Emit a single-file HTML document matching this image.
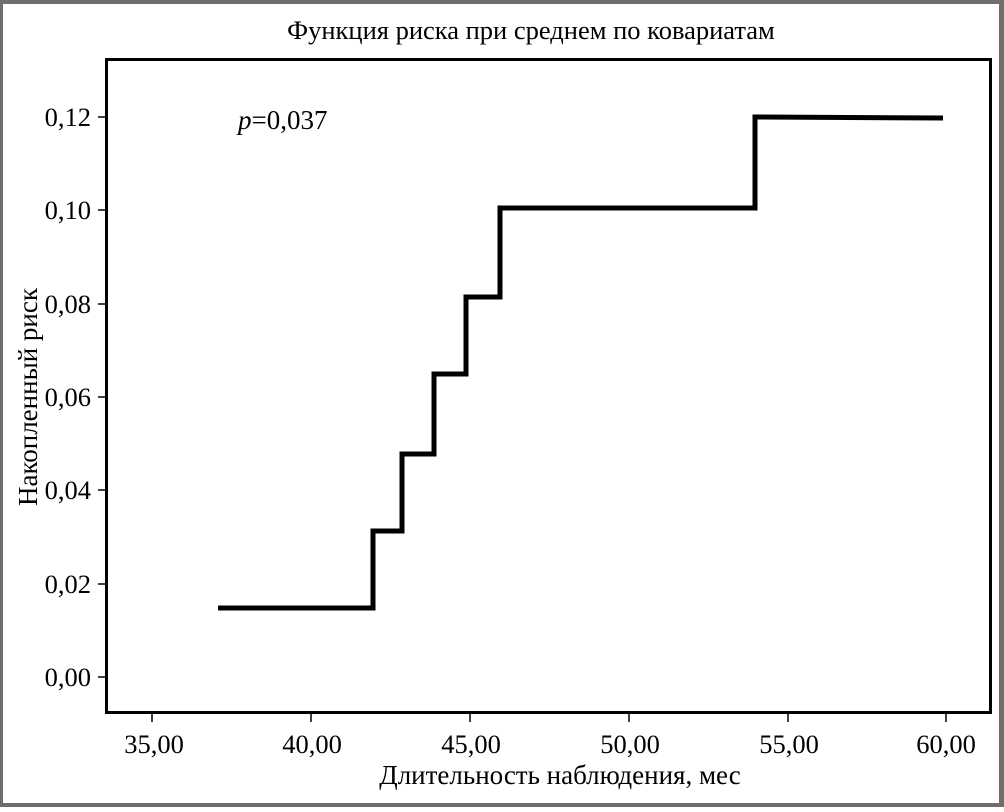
<!DOCTYPE html>
<html><head><meta charset="utf-8"><style>
html,body{margin:0;padding:0;background:#fff}
</style></head><body>
<svg width="1004" height="807" xmlns="http://www.w3.org/2000/svg" font-family="Liberation Serif, serif" fill="#000">
<rect x="0" y="0" width="1004" height="807" fill="#6e6e6e"/>
<rect x="3" y="4" width="996" height="799" fill="#fff"/>
<text x="531" y="39" font-size="26.5" text-anchor="middle">Функция риска при среднем по ковариатам</text>
<rect x="106.5" y="59.5" width="884" height="653" fill="none" stroke="#000" stroke-width="3"/>
<g stroke="#000" stroke-width="1.5">
<line x1="98" y1="117" x2="106" y2="117"/><line x1="98" y1="210" x2="106" y2="210"/>
<line x1="98" y1="304" x2="106" y2="304"/><line x1="98" y1="397" x2="106" y2="397"/>
<line x1="98" y1="490" x2="106" y2="490"/><line x1="98" y1="584" x2="106" y2="584"/>
<line x1="98" y1="677" x2="106" y2="677"/>
<line x1="152" y1="714" x2="152" y2="722"/><line x1="311" y1="714" x2="311" y2="722"/>
<line x1="470" y1="714" x2="470" y2="722"/><line x1="629" y1="714" x2="629" y2="722"/>
<line x1="788" y1="714" x2="788" y2="722"/><line x1="946" y1="714" x2="946" y2="722"/>
</g>
<g font-size="26.5" text-anchor="end">
<text x="91" y="126">0,12</text><text x="91" y="219">0,10</text><text x="91" y="313">0,08</text>
<text x="91" y="406">0,06</text><text x="91" y="499">0,04</text><text x="91" y="593">0,02</text>
<text x="91" y="686">0,00</text>
</g>
<g font-size="26.5" text-anchor="middle">
<text x="154" y="753">35,00</text><text x="312" y="753">40,00</text><text x="471" y="753">45,00</text>
<text x="630" y="753">50,00</text><text x="789" y="753">55,00</text><text x="946" y="753">60,00</text>
</g>
<text x="560" y="784" font-size="27" text-anchor="middle">Длительность наблюдения, мес</text>
<text transform="translate(37,397) rotate(-90)" font-size="27" text-anchor="middle">Накопленный риск</text>
<text x="238" y="129" font-size="27"><tspan font-style="italic">p</tspan>=0,037</text>
<polyline fill="none" stroke="#000" stroke-width="5" points="218,608 373,608 373,531 402,531 402,454 434,454 434,374 466,374 466,297 500,297 500,208 755,208 755,117 943,118"/>
</svg>
</body></html>
